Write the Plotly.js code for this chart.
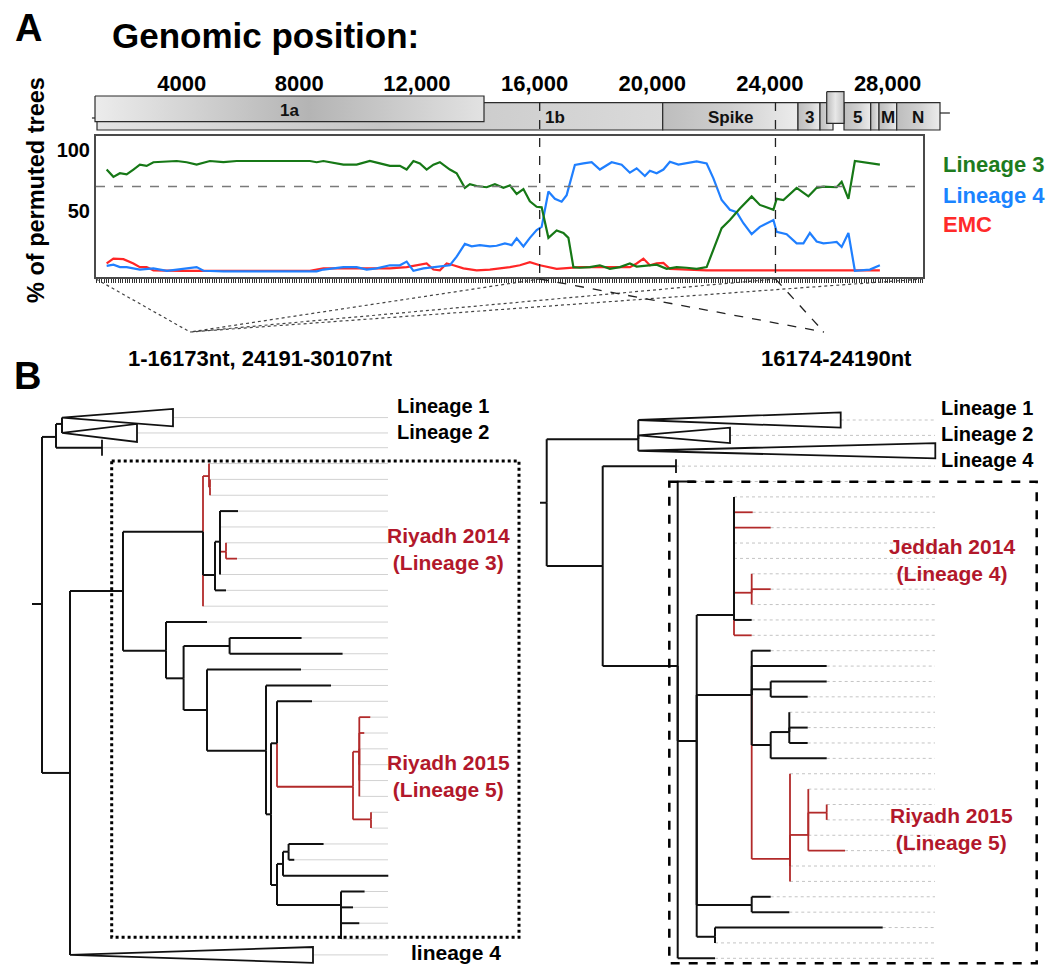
<!DOCTYPE html>
<html><head><meta charset="utf-8">
<script src="https://cdn.plot.ly/plotly-3.0.1.min.js"></script>
<style>html,body{margin:0;padding:0;background:#fff}</style>
</head><body>
<div id="chart" style="width:1051px;height:965px"></div>
<script>
// ================= DATA =================
// Panel A: % of permuted trees along the genome (window position in nt)
const posLin3 = [1450,1680,1900,2130,2360,2580,2810,3040,3830,4170,4510,4960,5420,5870,8360,8590,8820,9500,9950,10400,10740,11080,11420,11650,11880,12100,12330,12560,12780,13120,13350,13630,13800,14030,14370,14650,14940,15160,15390,15620,15840,16070,16240,16470,16750,16980,17150,17320,17540,17880,18220,18560,18900,19240,19470,19810,20150,20490,20830,21170,21510,21850,22080,22360,22640,22980,23380,23660,24120,24230,24460,24910,25310,25590,25820,26270,26440,26670,26890,27740];
const pctLin3 = [84,78,81,80,84,88,87,90,91,90,88,91,90,91,91,90,91,88,88,91,89,87,87,84,91,89,84,88,90,84,81,69,72,70.5,69.5,72,69,71,64,68,58,53.5,53,28,34,32,28,4,3.5,4,5.5,2.6,4,7,4.5,5,6,2.6,4,3.5,2.6,4,18,36,42.6,52,62,55,51,60,59,69,62,69,70,69.5,74,60,91,88];
const posLin4 = [1450,1680,1900,2130,2580,3040,3500,4510,4740,5420,8590,8820,9500,9950,10290,10630,11080,11420,11650,11880,12220,12670,13120,13350,13630,13860,14140,14480,14710,14990,15220,15390,15620,15840,16070,16240,16470,16690,16920,17090,17370,17660,17940,18220,18620,18960,19240,19470,19750,19920,20150,20380,20600,20890,21170,21510,21850,22080,22360,22640,22870,23100,23380,23660,24120,24230,24570,24910,25140,25360,25590,25820,26040,26270,26440,26670,26890,27400,27740];
const pctLin4 = [5,6,4,4,2,3,1,4,1,0.5,0.5,2,4,4,2,3,5.5,5.5,8.5,1,3,4,5.5,12.6,23,21,22,21,21.5,23.5,22,27.6,21,28,34.4,37,66,60,57.6,63,87.7,89,90,84,90,88,81.4,85,78.7,83,81,84,90.4,88,89,90.7,89,76.8,59,51,49,40,31,37,42.6,33,31,23.5,23.5,32,25,23.5,24,24.6,20.5,32,1,2,5.5];
const posEMC  = [1450,1680,2020,2360,2580,2810,3040,4000,8360,8820,11080,11650,12330,12560,12780,13010,13240,13580,14030,14480,15160,15500,15840,16180,16750,17540,19240,19470,19700,19920,20150,20380,20600,21850,27740];
const pctEMC  = [7,11,10.5,7,4,4,1.4,1,1,3,3,4,7,2,1.4,7,5.5,3,1.4,2,4,5.5,8,5.5,2.6,4,4,7,11,5.5,7,7.5,2.6,1.4,1.4];
const seriesNames = ['Lineage 3','Lineage 4','EMC'];
const threshold = 70;
const recombBreaks = [16173, 24190];
const yTickVals = [50, 100];
const genomeTickVals = [4000, 8000, 12000, 16000, 20000, 24000, 28000];
const genomeTickText = ['4000', '8000', '12,000', '16,000', '20,000', '24,000', '28,000'];

// Genome map (nt)
const orfName  = ['1ab', 'S', '3', '4a', '4b', '5', 'E', 'M', 'N'];
const orfLabel = ['1b', 'Spike', '3', '', '', '5', '', 'M', 'N'];
const orfStart = [1122, 20356, 24956, 25704, 25932, 26520, 27428, 27710, 28312];
const orfEnd   = [20356, 24956, 25704, 26146, 26520, 27428, 27710, 28312, 29784];
const orf1a = [1054, 14280];
const genomeSpan = [950, 30120];
const label1bAt = 16700;

// Panel B, left tree (1-16173nt, 24191-30107nt): parent index, branch length, row
const leftParent = [-1,0,1,2,2,1,0,6,7,8,9,9,11,11,8,14,15,15,15,18,18,15,14,8,7,24,24,26,27,27,26,30,30,32,32,34,35,35,37,38,38,38,38,38,38,37,45,45,34,48,49,50,50,49,48,54,54,54,54,6];
const leftLen    = [10,14,6,0,0,46,28,53,80,6,0,1,0,0,12,5,18,0,6,0,11,0,11,0,43,41,17.6,46,72,113,23.4,94,59,65,5,6,35,76,6.3,11,5,0,0,0,0,18,0,0,6,6,5.6,35,5.7,105.3,64,23.6,12,18.3,0,0];
const leftRow    = [11.86,1.32,0.5,0.1,1.07,2,22.52,11.04,7.3,3.79,3,4.5,4,5,10.03,7.93,6,7,8.56,8,9,10,11,12,14.81,13,16.55,14.51,14,15,18.55,16,21.12,17,25.13,20.65,18,23.39,21.18,19,20,21,22,23,24,25.45,25,26,29.59,28.26,27.49,27,28,29,30.85,30,31,32,33,34];
const leftRed    = [9,10,11,12,13,18,19,20,23,37,38,39,40,41,42,43,44,45,46,47];
const leftClade     = [3, 4, 5, 59];
const leftCladeLen  = [111, 75, 0, 243];
const leftCladeHalf = [0.55, 0.57, 0.5, 0.5];

// Panel B, right tree (16174-24190nt)
const rightParent = [-1,0,1,1,1,0,5,5,7,7,9,10,10,10,10,10,10,16,16,16,10,10,9,22,22,22,25,25,22,28,29,29,29,28,22,34,34,36,36,38,38,36,36,34,34,9,45,45,9,48,48,7];
const rightLen    = [6.7,91.6,0,0,0,56,73.3,75,17,19,37.3,0,18.7,36.7,0,0,17.7,0,19,0,17.7,17.7,55,19,75,19,56,37,19,18.6,0,18.4,18.4,56,38.3,0,18.3,0,18.4,0,0,0,36.7,0,0,55,19,37.6,18.3,167.7,0,37.3];
const rightRow    = [5.38,1.25,0,1,2,9.49,3,16,4,20.87,12.68,5,6,7,8,9,11.23,10,11,12,13,14,17.88,15,16,17.51,17,18,21.13,20.29,19,20,21,22,28.54,23,26.98,24,25.53,25,26,27,28,29,30,31.53,31,32,33.6,33,34,35];
const rightRed    = [12,13,14,15,16,17,18,19,21,34,35,36,37,38,39,40,41,42,43,44];
const rightClade     = [2, 3, 4, 6];
const rightCladeLen  = [202.4, 91.7, 297, 0];
const rightCladeHalf = [0.5, 0.5, 0.5, 0.45];

// ================= STYLE / GEOMETRY =================
const FONT = 'Liberation Sans, Arial, Helvetica, sans-serif';
const W = 1051, H = 965;
const px = v => v / W;
const py = v => 1 - v / H;
const NT_PER_PX = 34, NT0_PX = 64;
const ntRange = (a, b) => [(a - NT0_PX) * NT_PER_PX, (b - NT0_PX) * NT_PER_PX];
const pxOfNt = nt => NT0_PX + nt / NT_PER_PX;
const RED_TXT = '#b2182b', RED_BR = '#b22a2a';
const lineColors = ['#167816', '#1f7fff', '#ff2626'];
const legendColors = ['#1e7b1e', '#1a84ff', '#ff2a2a'];

const traces = [];
const annotations = [];
const shapes = [];
const bold = (size, color) => ({family: FONT, size: size, color: color || '#000', weight: 'bold'});

// ---- line chart
[[posEMC, pctEMC, 2], [posLin4, pctLin4, 1], [posLin3, pctLin3, 0]].forEach(([xs, ys, k]) => {
  traces.push({type: 'scatter', mode: 'lines', x: xs, y: ys, name: seriesNames[k],
    line: {color: lineColors[k], width: 2.2}, showlegend: false, hoverinfo: 'skip', xaxis: 'x', yaxis: 'y'});
});

// ---- genome map
function boxTrace(x0, x1, y0, y1, scale) {
  return {type: 'scatter', mode: 'lines', xaxis: 'x2', yaxis: 'y2',
    x: [x0, x1, x1, x0, x0], y: [y0, y0, y1, y1, y0], fill: 'toself',
    fillcolor: scale[1][1], fillgradient: {type: 'horizontal', colorscale: scale},
    line: {color: '#2b2b2b', width: 1.2}, hoverinfo: 'skip', showlegend: false};
}
traces.push({type: 'scatter', mode: 'lines', xaxis: 'x2', yaxis: 'y2', x: [genomeSpan[0], orfStart[0]], y: [118, 118],
  line: {color: '#222', width: 1.2}, hoverinfo: 'skip', showlegend: false});
traces.push({type: 'scatter', mode: 'lines', xaxis: 'x2', yaxis: 'y2', x: [orfEnd[orfEnd.length - 1], genomeSpan[1]], y: [113, 113],
  line: {color: '#222', width: 1.2}, hoverinfo: 'skip', showlegend: false});
const gradA = [[0, '#e4e4e4'], [0.5, '#c6c6c6'], [1, '#dadada']];
const gradB = [[0, '#bdbdbd'], [0.5, '#cfcfcf'], [1, '#ececec']];
orfName.forEach((nm, i) => {
  if (nm === '4b') return;
  traces.push(boxTrace(orfStart[i], orfEnd[i], 102.7, 130, i === 0 ? gradA : gradB));
});
traces.push(boxTrace(orf1a[0], orf1a[1], 96, 121.7, [[0, '#ececec'], [0.55, '#b4b4b4'], [1, '#e2e2e2']]));
const i4b = orfName.indexOf('4b');
traces.push(boxTrace(orfStart[i4b], orfEnd[i4b], 91.7, 123.3, [[0, '#bcbcbc'], [0.5, '#e8e8e8'], [1, '#c4c4c4']]));
annotations.push({xref: 'x2', yref: 'y2', x: (orf1a[0] + orf1a[1]) / 2, y: 110, text: '1a', showarrow: false, font: bold(17, '#111')});
orfLabel.forEach((lb, i) => {
  if (!lb) return;
  const xc = i === 0 ? label1bAt : (orfStart[i] + orfEnd[i]) / 2;
  annotations.push({xref: 'x2', yref: 'y2', x: xc, y: 117.5, text: lb, showarrow: false, font: bold(17, '#111')});
});

// ---- trees
function addTree(parent, len, row, redList, clade, cladeLen, cladeHalf, guideEnd, xa, ya, guideStyle) {
  const n = parent.length;
  const x = new Array(n);
  for (let i = 0; i < n; i++) x[i] = (parent[i] < 0 ? 0 : x[parent[i]]) + len[i];
  const hasChild = new Array(n).fill(false);
  parent.forEach(p => { if (p >= 0) hasChild[p] = true; });
  const red = {x: [], y: []}, blk = {x: [], y: []}, gd = {x: [], y: []};
  const seg = (s, x0, y0, x1, y1) => { s.x.push(x0, x1, null); s.y.push(y0, y1, null); };
  for (let i = 0; i < n; i++) {
    const s = redList.includes(i) ? red : blk;
    const x0 = parent[i] < 0 ? 0 : x[parent[i]];
    if (parent[i] >= 0) seg(s, x0, row[parent[i]], x0, row[i]);
    seg(s, x0, row[i], x[i], row[i]);
  }
  for (let i = 0; i < n; i++) {
    if (hasChild[i]) continue;
    const k = clade.indexOf(i);
    const end = k >= 0 ? x[i] + cladeLen[k] : x[i];
    if (end < guideEnd) seg(gd, end, row[i], guideEnd, row[i]);
  }
  const base = {type: 'scatter', mode: 'lines', xaxis: xa, yaxis: ya, hoverinfo: 'skip', showlegend: false};
  traces.push(Object.assign({}, base, {x: gd.x, y: gd.y, line: guideStyle}));
  traces.push(Object.assign({}, base, {x: red.x, y: red.y, line: {color: RED_BR, width: 1.8}}));
  traces.push(Object.assign({}, base, {x: blk.x, y: blk.y, line: {color: '#111', width: 2}}));
  clade.forEach((ci, k) => {
    const x0 = x[ci], L = cladeLen[k], h = cladeHalf[k], r = row[ci];
    traces.push(Object.assign({}, base, {x: [x0, x0 + L, x0 + L, x0], y: [r, r - h, r + h, r],
      fill: 'toself', fillcolor: '#fff', line: {color: '#111', width: 1.8}}));
  });
}
addTree(leftParent, leftLen, leftRow, leftRed, leftClade, leftCladeLen, leftCladeHalf, 356, 'x3', 'y3', {color: '#d2d2d2', width: 1});
addTree(rightParent, rightLen, rightRow, rightRed, rightClade, rightCladeLen, rightCladeHalf, 395, 'x4', 'y4', {color: '#c4c4c4', width: 1, dash: 'dot'});

// ---- tree labels (stacked lines kept in one text block)
function tlab(xa, ya, x, y, lines, color, anchor, size) {
  annotations.push({xref: xa, yref: ya, x: x, y: y, text: lines.join('<br>'), showarrow: false,
    xanchor: anchor || 'left', yanchor: 'middle', align: anchor === 'center' ? 'center' : 'left', font: bold(size || 21, color)});
}
tlab('x3', 'y3', 363, 0.19, ['Lineage 1', 'Lineage 2'], '#000', 'left', 20);
tlab('x3', 'y3', 416, 8.39, ['Riyadh 2014', '(Lineage 3)'], RED_TXT, 'center');
tlab('x3', 'y3', 416, 22.69, ['Riyadh 2015', '(Lineage 5)'], RED_TXT, 'center');
tlab('x3', 'y3', 377, 33.86, ['lineage 4'], '#000', 'left', 21);
tlab('x4', 'y4', 399, 0.93, ['Lineage 1', 'Lineage 2', 'Lineage 4'], '#000', 'left', 20);
tlab('x4', 'y4', 411.7, 9.11, ['Jeddah 2014', '(Lineage 4)'], RED_TXT, 'center');
tlab('x4', 'y4', 411.7, 26.59, ['Riyadh 2015', '(Lineage 5)'], RED_TXT, 'center');

// ---- other texts (explicit anchors)
function plab(x, y, text, font, xanchor, extra) {
  annotations.push(Object.assign({xref: 'paper', yref: 'paper', x: px(x), y: py(y), text: text, showarrow: false,
    xanchor: xanchor || 'center', yanchor: 'middle', font: font}, extra || {}));
}
plab(28, 28, 'A', bold(38));
plab(27, 376, 'B', bold(38));
plab(110, 36, 'Genomic position:', bold(35), 'left');
plab(36, 190, '% of permuted trees', bold(23.5), 'center', {textangle: -90});
seriesNames.forEach((nm, k) => plab(941, [165, 195, 224][k], nm, bold(22, legendColors[k]), 'left'));
plab(260, 358, '1-' + recombBreaks[0] + 'nt, ' + (recombBreaks[1] + 1) + '-30107nt', bold(22));
plab(836, 358, (recombBreaks[0] + 1) + '-' + recombBreaks[1] + 'nt', bold(22));

// ---- shapes
shapes.push({type: 'line', xref: 'x domain', yref: 'y', x0: 0, x1: 1, y0: threshold, y1: threshold, line: {color: '#7a7a7a', width: 1.5, dash: 'dash'}});
recombBreaks.forEach(b => {
  shapes.push({type: 'line', xref: 'x', yref: 'paper', x0: b, x1: b, y0: py(102), y1: py(281), line: {color: '#222', width: 1.3, dash: 'dash'}});
});
const cL = [190, 332], cR = [824, 332];
[96, pxOfNt(recombBreaks[0]), pxOfNt(recombBreaks[1]), 923].forEach(xx => {
  shapes.push({type: 'line', xref: 'paper', yref: 'paper', x0: px(xx), y0: py(279), x1: px(cL[0]), y1: py(cL[1]), line: {color: '#444', width: 1.2, dash: 'dot'}});
});
recombBreaks.forEach(b => {
  shapes.push({type: 'line', xref: 'paper', yref: 'paper', x0: px(pxOfNt(b)), y0: py(279), x1: px(cR[0]), y1: py(cR[1]), line: {color: '#222', width: 1.3, dash: 'dash'}});
});
shapes.push({type: 'rect', xref: 'paper', yref: 'paper', x0: px(111.7), x1: px(519), y0: py(461), y1: py(937.3), line: {color: '#000', width: 3, dash: 'dot'}});
shapes.push({type: 'rect', xref: 'paper', yref: 'paper', x0: px(669.3), x1: px(1036.7), y0: py(481.7), y1: py(963.3), line: {color: '#000', width: 2.5, dash: 'dash'}});

// ================= LAYOUT =================
const hidden = {visible: false, showgrid: false, zeroline: false};
const layout = {
  width: W, height: H, margin: {l: 0, r: 0, t: 0, b: 0},
  paper_bgcolor: '#fff', plot_bgcolor: 'rgba(0,0,0,0)', showlegend: false,
  font: {family: FONT},
  xaxis: {domain: [px(96), px(923)], range: ntRange(96, 923), anchor: 'y',
    showline: true, mirror: true, linecolor: '#4a4a4a', linewidth: 2, showgrid: false, zeroline: false,
    ticks: 'outside', tick0: 0, dtick: 80, ticklen: 4, tickwidth: 1, tickcolor: '#333', showticklabels: false},
  yaxis: {domain: [py(277), py(136)], range: [-4.1, 111.5], anchor: 'x',
    showline: true, mirror: true, linecolor: '#4a4a4a', linewidth: 2, showgrid: false, zeroline: false,
    tickmode: 'array', tickvals: yTickVals, ticktext: yTickVals.map(String), ticks: '', tickfont: bold(20)},
  xaxis2: {domain: [px(80), px(960)], range: ntRange(80, 960), anchor: 'y2', side: 'top',
    showline: false, showgrid: false, zeroline: false, ticks: '', tickmode: 'array',
    tickvals: genomeTickVals, ticktext: genomeTickText, tickfont: bold(22), ticklabelstandoff: -8},
  yaxis2: {domain: [py(136), py(88)], range: [136, 88], anchor: 'x2', visible: false, showgrid: false, zeroline: false},
  xaxis3: Object.assign({domain: [0, px(540)], range: [-32, 508], anchor: 'y3'}, hidden),
  yaxis3: Object.assign({domain: [0, py(400)], range: [(965 - 416) / 15.85, (400 - 416) / 15.85], anchor: 'x3'}, hidden),
  xaxis4: Object.assign({domain: [px(540), 1], range: [0, 511], anchor: 'y4'}, hidden),
  yaxis4: Object.assign({domain: [0, py(400)], range: [(965 - 420) / 15.38, (400 - 420) / 15.38], anchor: 'x4'}, hidden),
  annotations: annotations, shapes: shapes
};
Plotly.newPlot('chart', traces, layout, {staticPlot: true, displayModeBar: false});
</script>
</body></html>
